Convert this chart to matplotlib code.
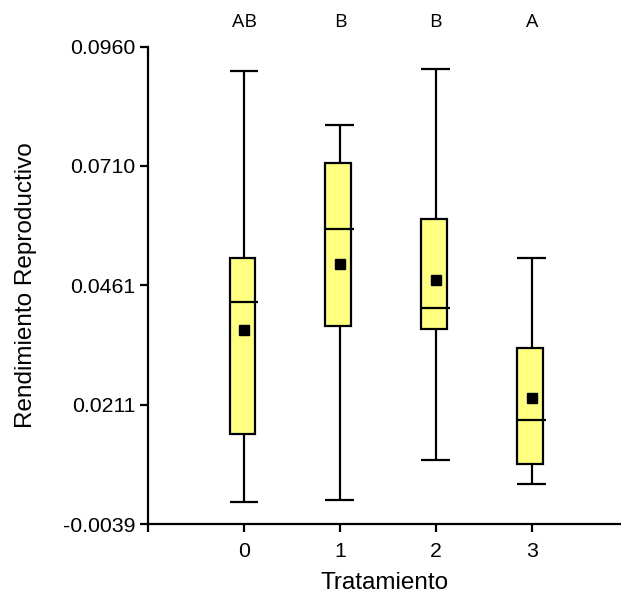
import matplotlib
matplotlib.use("Agg")
import matplotlib.pyplot as plt

plt.rcParams['font.family'] = ['Liberation Sans', 'DejaVu Sans']

# Box-plot summaries per treatment
tratamientos = [0, 1, 2, 3]
minimos = [0.0008, 0.0012, 0.0095, 0.0045]
q1 = [0.0149, 0.0375, 0.0370, 0.0086]
medianas = [0.0425, 0.0579, 0.0412, 0.0178]
q3 = [0.0517, 0.0717, 0.0600, 0.0329]
maximos = [0.0909, 0.0796, 0.0913, 0.0517]
medias = [0.0366, 0.0504, 0.0471, 0.0224]
letras = ["AB", "B", "B", "A"]

y_ticks = [-0.0039, 0.0211, 0.0461, 0.0710, 0.0960]
y_ticklabels = ["-0.0039", "0.0211", "0.0461", "0.0710", "0.0960"]

fig = plt.figure(figsize=(6.21, 5.95), dpi=100)
ax = fig.add_axes([148 / 621, 1 - 524 / 595, 1 - 148 / 621, (524 - 46.5) / 595])

lw = 1.6
box_left, box_w, cap_half = 0.15, 0.27, 0.15
for x, lo, a, m, b, hi, mu in zip(tratamientos, minimos, q1, medianas, q3, maximos, medias):
    ax.vlines(x, b, hi, color="black", lw=lw, zorder=2)
    ax.vlines(x, lo, a, color="black", lw=lw, zorder=2)
    ax.hlines([lo, hi], x - cap_half, x + cap_half, color="black", lw=lw, zorder=2)
    ax.bar(x - box_left, b - a, width=box_w, bottom=a, align="edge",
           color="#ffff80", edgecolor="black", linewidth=lw, zorder=3)
    ax.hlines(m, x - box_left, x + cap_half, color="black", lw=lw, zorder=4)
    ax.plot(x, mu, marker="s", color="black", markersize=6.5, zorder=5)

for x, t in zip(tratamientos, letras):
    ax.text(x, 1.0 + 24 / 477, t, transform=ax.get_xaxis_transform(),
            ha="center", va="center", fontsize=14,
            family=["Open Sans", "DejaVu Sans"])

ax.set_xlim(-1.0, 3.93)
ax.set_ylim(-0.0039, 0.0960)
ax.set_xticks([-1] + tratamientos)
ax.set_xticklabels([""] + [str(t) for t in tratamientos])
ax.set_yticks(y_ticks)
ax.set_yticklabels(y_ticklabels)

for side in ("top", "right"):
    ax.spines[side].set_visible(False)
for side in ("left", "bottom"):
    ax.spines[side].set_linewidth(lw)
ax.tick_params(axis="both", width=lw, length=6, labelsize=15.3)
ax.tick_params(axis="x", pad=7)
ax.tick_params(axis="y", pad=3)

ax.set_xlabel("Tratamiento", fontsize=17.5, labelpad=8)
ax.set_ylabel("Rendimiento Reproductivo", fontsize=17.5, labelpad=19)

fig.savefig("out.png", dpi=100)
